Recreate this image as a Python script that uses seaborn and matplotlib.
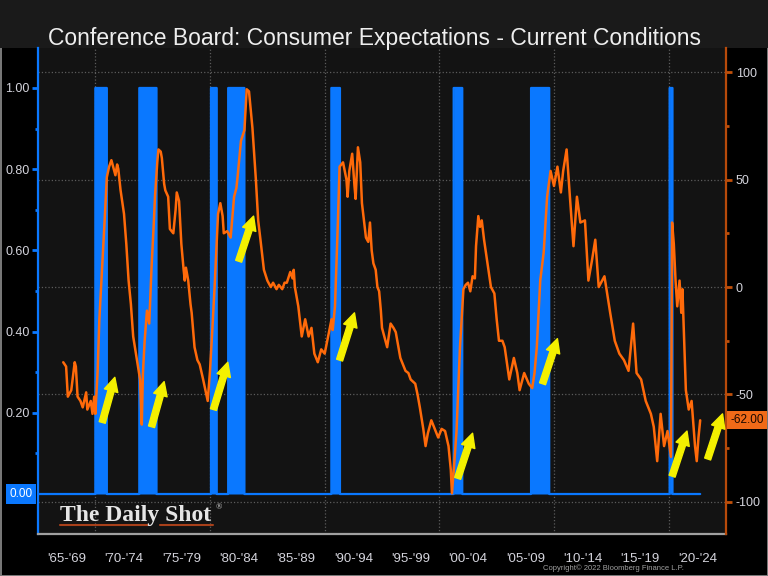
import numpy as np
import matplotlib
matplotlib.use("Agg")
import matplotlib.pyplot as plt
import matplotlib.transforms as mtransforms
from matplotlib.lines import Line2D
from matplotlib.patches import Rectangle
import seaborn as sns

# Expectations minus current conditions (right axis)
years = [
    1967.2, 1967.45, 1967.6, 1967.9, 1968.2, 1968.3, 1968.45, 1968.7, 1968.9, 1969.2,
    1969.3, 1969.6, 1969.75, 1969.9, 1970.0, 1970.2, 1970.35, 1970.6, 1970.8, 1971.0,
    1971.2, 1971.4, 1971.6, 1971.75, 1971.9, 1972.0, 1972.2, 1972.5, 1972.7, 1972.9,
    1973.1, 1973.3, 1973.6, 1973.9, 1974.0, 1974.05, 1974.15, 1974.3, 1974.5, 1974.7,
    1974.9, 1975.1, 1975.2, 1975.4, 1975.5, 1975.7, 1975.8, 1976.0, 1976.1, 1976.35,
    1976.5, 1976.8, 1977.0, 1977.1, 1977.3, 1977.5, 1977.7, 1977.8, 1977.9, 1978.1,
    1978.3, 1978.4, 1978.65, 1978.9, 1979.1, 1979.4, 1979.6, 1979.8, 1980.0, 1980.2,
    1980.4, 1980.5, 1980.7, 1980.9, 1981.1, 1981.2, 1981.5, 1981.8, 1982.1, 1982.3,
    1982.4, 1982.7, 1983.0, 1983.2, 1983.4, 1983.7, 1984.0, 1984.2, 1984.4, 1984.7,
    1985.0, 1985.3, 1985.5, 1985.8, 1986.0, 1986.3, 1986.5, 1986.7, 1987.0, 1987.2,
    1987.3, 1987.4, 1987.7, 1988.0, 1988.3, 1988.6, 1988.85, 1989.1, 1989.4, 1989.7,
    1990.0, 1990.3, 1990.6, 1990.7, 1990.9, 1991.05, 1991.15, 1991.3, 1991.6, 1991.9,
    1992.0, 1992.15, 1992.4, 1992.6, 1992.7, 1992.9, 1993.1, 1993.25, 1993.45, 1993.6,
    1993.8, 1993.95, 1994.1, 1994.25, 1994.45, 1994.6, 1994.75, 1994.9, 1995.0, 1995.45,
    1995.75, 1996.0, 1996.2, 1996.6, 1997.05, 1997.3, 1997.5, 1997.9, 1998.1, 1998.3,
    1998.6, 1998.8, 1999.0, 1999.3, 1999.6, 1999.9, 2000.2, 2000.5, 2000.8, 2001.0,
    2001.1, 2001.3, 2001.5, 2001.8, 2002.1, 2002.3, 2002.5, 2002.7, 2002.9, 2003.1,
    2003.2, 2003.4, 2003.55, 2003.7, 2003.9, 2004.2, 2004.5, 2004.8, 2005.0, 2005.2,
    2005.5, 2005.7, 2006.1, 2006.5, 2006.8, 2007.0, 2007.4, 2007.8, 2008.1, 2008.3,
    2008.5, 2008.8, 2009.1, 2009.4, 2009.7, 2010.0, 2010.3, 2010.6, 2010.8, 2011.1,
    2011.4, 2011.7, 2012.0, 2012.3, 2012.7, 2013.0, 2013.3, 2013.6, 2013.9, 2014.2,
    2014.4, 2014.9, 2015.3, 2015.7, 2016.1, 2016.5, 2016.9, 2017.2, 2017.6, 2018.0,
    2018.45, 2018.7, 2019.0, 2019.3, 2019.6, 2019.9, 2020.1, 2020.2, 2020.3, 2020.45,
    2020.6, 2020.75, 2020.95, 2021.1, 2021.2, 2021.5, 2021.75, 2022.0, 2022.3, 2022.45,
    2022.6, 2022.75,
]
spread = [
    -35, -37, -51, -48, -35, -37, -51, -53, -56, -49,
    -57, -53, -59, -51, -59, -39, -15, 10, 30, 51,
    56, 59, 55, 52, 57, 55, 45, 34, 20, 3,
    -8, -23, -33, -43, -58, -64, -40, -25, -11, -17,
    9, 30, 42, 58, 64, 63, 60, 48, 45, 42,
    27, 25, 36, 44, 40, 20, 8, 3, 9, 3,
    -8, -12, -28, -34, -36, -43, -48, -53, -39, -20,
    0, 11, 34, 39, 33, 25, 26, 23, 42, 46,
    51, 68, 73, 92, 91, 74, 50, 31, 22, 8,
    3, 0, 2, -1, 1, -1, 2, 2, 7, 4,
    8, 0, -9, -23, -15, -23, -19, -31, -35, -29,
    -31, -23, -15, -20, -9, 14, 30, 56, 58, 50,
    42, 54, 62, 47, 41, 65, 58, 39, 30, 23,
    21, 30, 17, 11, 8, 0, -2, -11, -19, -28,
    -17, -19, -21, -33, -39, -40, -43, -45, -50, -56,
    -66, -74, -68, -62, -66, -70, -66, -67, -74, -85,
    -96, -82, -67, -28, -1, 1, 2, -2, 5, 4,
    19, 33, 28, 31, 22, 11, 0, -3, -15, -25,
    -25, -28, -43, -33, -40, -48, -40, -45, -47, -40,
    -28, 3, 16, 42, 54, 47, 56, 44, 54, 64,
    41, 19, 42, 30, 31, 3, 12, 22, 0, 3,
    5, -12, -25, -31, -34, -39, -17, -40, -43, -53,
    -59, -65, -81, -59, -74, -67, -75, -79, 30, 20,
    3, -9, 3, -12, -1, -48, -57, -53, -74, -81,
    -70, -62,
]

# NBER recessions (left axis, 1 = in recession)
rec_start = [1969.92, 1973.83, 1980.0, 1981.5, 1990.5, 2001.17, 2007.92, 2020.08]
rec_end = [1970.92, 1975.25, 1980.58, 1982.92, 1991.25, 2001.92, 2009.5, 2020.33]

period_edges = [1965, 1970, 1975, 1980, 1985, 1990, 1995, 2000, 2005, 2010, 2015, 2020, 2025]
period_labels = ["'65-'69", "'70-'74", "'75-'79", "'80-'84", "'85-'89", "'90-'94",
                 "'95-'99", "'00-'04", "'05-'09", "'10-'14", "'15-'19", "'20-'24"]

# yellow arrows: (tail year, tail value), (head year, head value) on the right axis
arrows = [
    ((1970.6, -63), (1971.7, -42)),
    ((1974.9, -65), (1976.0, -44)),
    ((1980.3, -57), (1981.55, -35)),
    ((1982.5, 12), (1983.8, 33)),
    ((1991.3, -34), (1992.6, -12)),
    ((2001.6, -89), (2002.9, -68)),
    ((2009.0, -45), (2010.3, -24)),
    ((2020.3, -88), (2021.6, -67)),
    ((2023.4, -80), (2024.7, -59)),
]

BLUE = "#0a78ff"
ORANGE = "#ff6a0a"
TXT = "#d4d4dc"

sns.set_theme(style="dark", rc={
    "figure.facecolor": "black",
    "axes.facecolor": "#131313",
    "axes.edgecolor": "#999999",
    "text.color": TXT,
    "xtick.color": TXT,
    "ytick.color": TXT,
})
plt.rcParams["font.family"] = ["Liberation Sans", "DejaVu Sans"]

fig = plt.figure(figsize=(7.68, 5.76), dpi=100)
fig.patch.set_edgecolor("#777777")
fig.patch.set_linewidth(2)
fig.patches.append(Rectangle((0, 0.9167), 1, 0.0833, transform=fig.transFigure,
                             facecolor="#1a1a1a", edgecolor="none", zorder=-1))

ax = fig.add_axes([0.0495, 0.0729, 0.8958, 0.8438])
ax2 = ax.twinx()

# recession indicator on a monthly grid
months = np.arange(1965.0, 2022.8, 1 / 12)
indicator = np.zeros_like(months)
for s, e in zip(rec_start, rec_end):
    indicator[(months >= s) & (months < e)] = 1.0
ax.fill_between(months, indicator, step="post", color=BLUE, lw=0, zorder=2)
ax.plot(months, indicator, drawstyle="steps-post", color=BLUE, lw=1.6, zorder=2)

ax.set_xlim(1965.25, 2024.55)
ax.set_ylim(-0.0985, 1.0985)
ax2.set_ylim(-114.9, 111.2)

sns.lineplot(x=years, y=spread, ax=ax2, color=ORANGE, linewidth=1.8,
             sort=False, estimator=None, zorder=3)

# grid: decades vertical, right-axis levels horizontal
ax.vlines(period_edges[1::2], 0, 1, transform=ax.get_xaxis_transform(),
          colors="#5c5c5c", linestyles=":", lw=0.9, zorder=1)
right_ticks = [-100, -50, 0, 50, 100]
ax.hlines(right_ticks, 0, 1, transform=mtransforms.blended_transform_factory(ax.transAxes, ax2.transData),
          colors="#5c5c5c", linestyles=":", lw=0.9, zorder=1)

# x axis: period labels between boundary ticks
centers = [e + 2.5 for e in period_edges[:-1]]
ax.set_xticks(centers)
ax.set_xticklabels(period_labels, fontsize=9.5, color=TXT)
ax.set_xticks(period_edges, minor=True)
ax.tick_params(axis="x", which="major", length=0, pad=14)
ax.tick_params(axis="x", which="minor", length=9, width=1.3, color="#bbbbbb", direction="out")

# left axis
ax.set_yticks([0.2, 0.4, 0.6, 0.8, 1.0])
ax.set_yticklabels([f"{v:.2f}" for v in [0.2, 0.4, 0.6, 0.8, 1.0]], fontsize=9)
ax.set_yticks([0.1, 0.3, 0.5, 0.7, 0.9], minor=True)
ax.tick_params(axis="y", which="both", left=True, color=BLUE, width=2, direction="out", pad=2)
ax.tick_params(axis="y", which="major", length=4)
ax.tick_params(axis="y", which="minor", length=2)

# right axis
ax2.set_yticks(right_ticks)
ax2.set_yticklabels([str(v) for v in right_ticks], fontsize=9)
ax2.set_yticks([-75, -25, 25, 75], minor=True)
ax2.tick_params(axis="y", which="both", right=True, color="#c0500a", width=2, direction="out", pad=3)
ax2.tick_params(axis="y", which="major", length=4)
ax2.tick_params(axis="y", which="minor", length=2)
ax2.set_ylabel("")
ax2.grid(False)
ax.grid(False)

for side in ["top", "right"]:
    ax.spines[side].set_visible(False)
ax.spines["left"].set_color(BLUE)
ax.spines["left"].set_linewidth(1.6)
ax.spines["bottom"].set_color("#a0a0a0")
ax.spines["bottom"].set_linewidth(1.6)
for side in ["top", "left", "bottom"]:
    ax2.spines[side].set_visible(False)
ax2.spines["right"].set_color("#b84a0a")
ax2.spines["right"].set_linewidth(1.6)

# arrows
for tail, head in arrows:
    ax2.annotate("", xy=head, xytext=tail, annotation_clip=False,
                 arrowprops=dict(arrowstyle="simple,head_length=1.0,head_width=1.0,tail_width=0.45",
                                 color="#f4f000", mutation_scale=10, shrinkA=0, shrinkB=0),
                 zorder=5)

# last-value boxes
ax.annotate("0.00", xy=(0, indicator[-1]), xycoords=("axes fraction", "data"),
            xytext=(-4, 0), textcoords="offset points", ha="right", va="center",
            fontsize=8.5, color="white", annotation_clip=False,
            bbox=dict(boxstyle="square,pad=0.3", fc=BLUE, ec="none"))
ax2.annotate(f"{spread[-1]:.2f}", xy=(1, spread[-1]), xycoords=("axes fraction", "data"),
             xytext=(3, 0), textcoords="offset points", ha="left", va="center",
             fontsize=8.5, color="#1a0800", annotation_clip=False,
             bbox=dict(boxstyle="square,pad=0.25", fc="#f06a18", ec="none"))

# title and decorations
fig.text(0.488, 1 - 38 / 576, "Conference Board: Consumer Expectations - Current Conditions",
         ha="center", va="center", fontsize=16.5, color="#eeeeee")
fig.text(60 / 768, 1 - 521 / 576, "The Daily Shot", ha="left", va="baseline",
         fontsize=17, fontweight="bold", family=["Liberation Serif", "DejaVu Serif"], color="#e6e6e6")
fig.text(216 / 768, 1 - 509 / 576, "®", ha="left", va="baseline",
         fontsize=6, family=["Liberation Serif", "DejaVu Serif"], color="#e6e6e6")
for x0, x1 in [(60, 148), (160, 213)]:
    fig.add_artist(Line2D([x0 / 768, x1 / 768], [1 - 525 / 576] * 2, transform=fig.transFigure,
                          color="#a8401a", lw=1.5))
fig.text(684 / 768, 1 - 568 / 576, "Copyright\u00a9 2022 Bloomberg Finance L.P.",
         ha="right", va="center", fontsize=5.5, color="#a0a0a0")

fig.savefig("out.png", dpi=100, facecolor=fig.get_facecolor(), edgecolor=fig.get_edgecolor())
